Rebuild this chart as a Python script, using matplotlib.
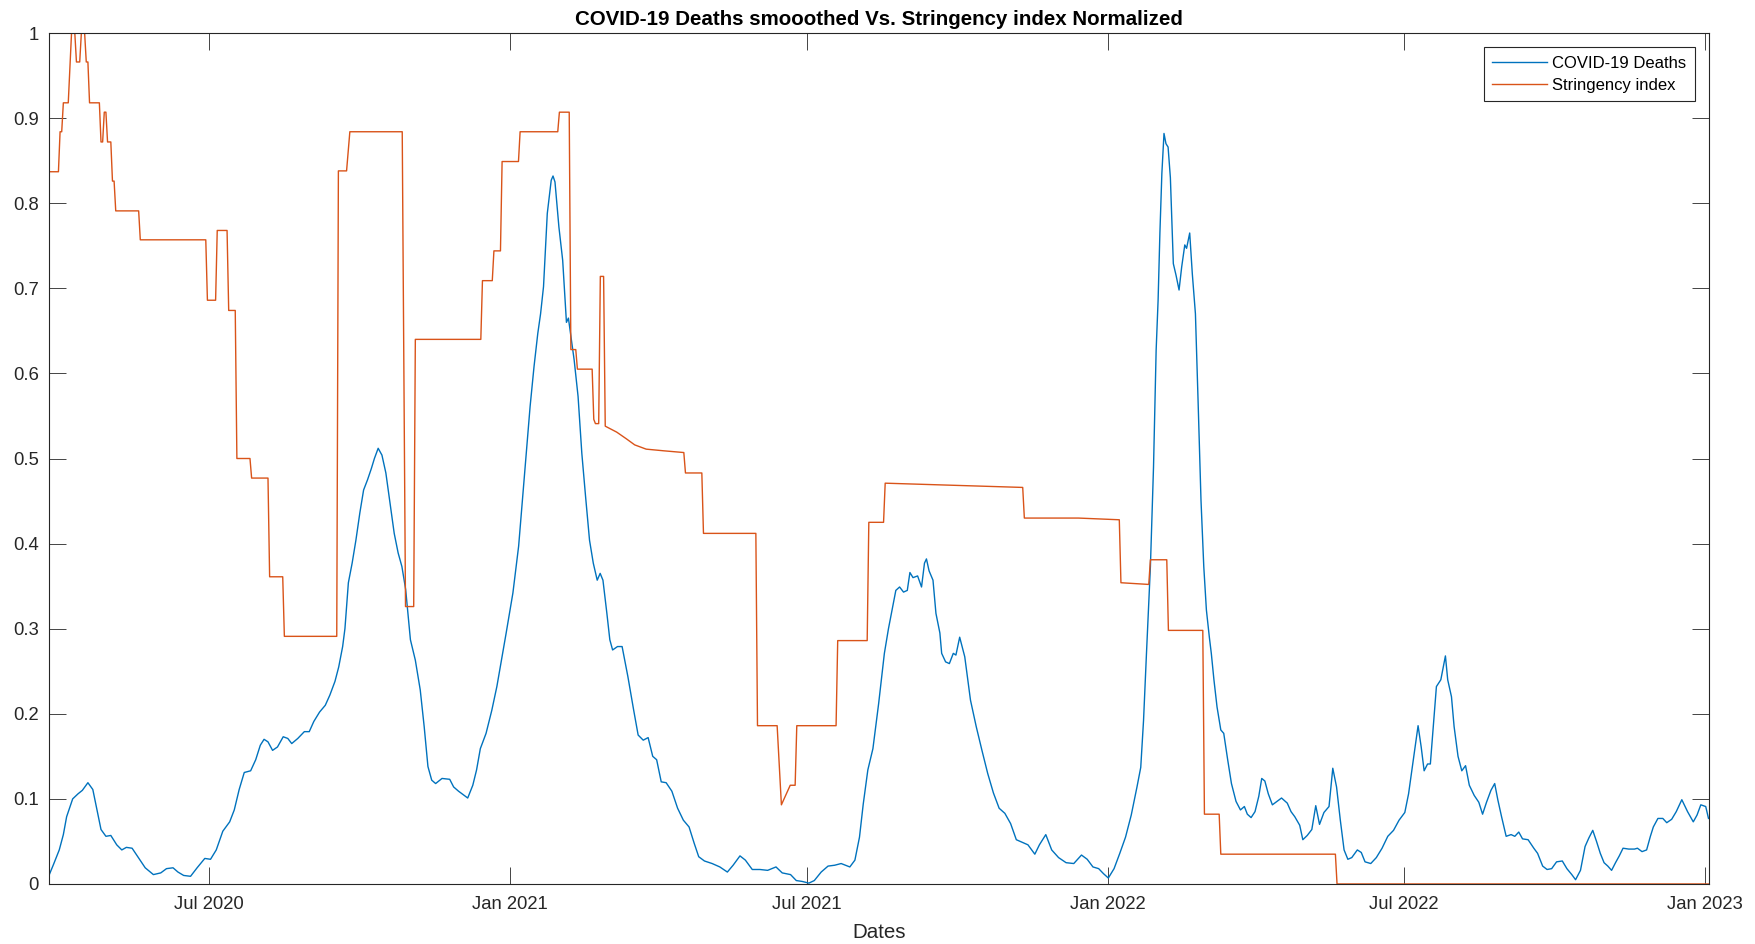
import datetime as dt
import numpy as np
import matplotlib
matplotlib.use("Agg")
import matplotlib.pyplot as plt
import matplotlib.dates as mdates

# ---------------- data ----------------
start_date = dt.date(2020, 3, 25)
last_day = 1014

title = "COVID-19 Deaths smooothed Vs. Stringency index Normalized"
xlabel = "Dates"
series_names = ["COVID-19 Deaths", "Stringency index"]

# COVID-19 deaths (smoothed, normalized): day offsets from start_date and values
deaths_day = [0, 3, 6.5, 9, 11, 14.7, 18, 20.6, 24, 27, 30, 32, 35, 38, 41.6, 44.7, 47.5, 51, 54.5, 59,
              64, 68.5, 72, 76, 79, 82.5, 86.7, 90.7, 95.4, 98.9, 102.4, 106.4, 110.6, 113.4, 116.4, 119.5,
              123.4, 126.5, 129.3, 131.6, 134, 136.8, 139.8, 143.3, 146.1, 148.5, 152.2, 156.2, 159.2, 162,
              165.5, 169, 171.8, 174.9, 177.2, 179.6, 181, 183.1, 185.4, 187.7, 190.1, 192.4, 194.8, 197.1,
              199, 201.3, 203.6, 206, 208.8, 211.1, 213.5, 215.8, 218.1, 221, 224, 227, 229.4, 231.7, 234,
              236.4, 240.3, 245, 247.4, 250.4, 253.2, 256, 259.1, 261.4, 263.7, 267.2, 270.7, 273.8, 276.6,
              279.4, 283.6, 287.1, 290.6, 294.1, 296.5, 298.8, 300.5, 302.3, 304.6, 307, 308.1, 309.3, 311.7,
              314, 316.3, 317.5, 319.1, 321, 323.4, 325.7, 328, 330.4, 332.7, 335.1, 336.9, 338.6, 341,
              342.8, 344.5, 347.5, 350.3, 353.8, 357.3, 360.1, 363.2, 366.2, 369, 371.4, 374.2, 377.2, 380.7,
              384.2, 387.7, 391.2, 394.3, 397.1, 400.6, 405.3, 410, 414.6, 418.1, 422.3, 425.6, 429.8, 434.5,
              439.2, 444.3, 448.1, 453.2, 456.7, 460.2, 464.4, 467.7, 471.9, 476.1, 480.1, 484.1, 489.4,
              492.5, 495.3, 497.6, 500.4, 503.5, 507, 510.5, 513, 515.2, 517.5, 519.8, 522.2, 524.5, 526.1,
              528, 530.8, 533.2, 535, 536.2, 537.8, 540.2, 542, 544.4, 545.5, 547.9, 550.2, 552.6, 554.2,
              556.5, 559.6, 563.1, 566.6, 570.1, 573.6, 577.1, 580.6, 584.1, 587.6, 591.1, 594.6, 598.2,
              602.4, 605.2, 609.1, 612.7, 616.9, 621.5, 626.2, 630.9, 634.4, 637.9, 641.4, 644.4, 647.3,
              650.8, 654.3, 657.8, 661.3, 664.8, 667.1, 668.8, 670.6, 673, 674.9, 676.5, 677.7, 678.8, 680,
              681.3, 682.5, 683.8, 685.2, 687, 688.7, 690.5, 692.1, 694, 695.1, 697, 698.6, 700.5, 702.1,
              703.9, 705.6, 707.2, 709, 710.2, 711.8, 713.7, 716, 717.8, 720.2, 722.5, 725.3, 728, 730.4,
              732.2, 734.5, 736.9, 739.2, 741, 742.9, 745, 747.5, 749.6, 753.1, 756.6, 758.9, 761.2, 764.2,
              766.1, 768.8, 771.6, 774, 776.3, 779, 782.1, 784.4, 786.7, 789, 791.3, 793.6, 796, 799.4,
              801.8, 804.1, 807.6, 811, 814.5, 818, 821.5, 824.9, 828.4, 830.7, 833, 834.7, 836.5, 838.4,
              840.2, 842.3, 844, 845.8, 847.7, 850.4, 853.2, 854.6, 856.9, 858.5, 860.9, 863.2, 865.5,
              867.8, 870.8, 873.6, 875.9, 878.3, 881, 883.3, 885.2, 887.5, 890.3, 893.3, 895.6, 898, 900.3,
              903.7, 907.2, 909.5, 912.6, 915.3, 918.1, 921.1, 924.6, 927.4, 930.4, 932.7, 935.7, 938.5,
              940.8, 943.2, 945.5, 947.8, 950.1, 952.4, 954.7, 957.1, 959.4, 961.7, 965.2, 968.7, 970.5,
              973.3, 976.1, 978.4, 980.2, 983, 986, 988.4, 991.4, 994.2, 997.6, 1001.1, 1004.6, 1006.9,
              1009.2, 1012.2, 1013.9]
deaths_val = [0.009, 0.023, 0.040, 0.058, 0.079, 0.100, 0.106, 0.110, 0.119, 0.111, 0.083, 0.064, 0.056, 0.057,
              0.046, 0.040, 0.043, 0.042, 0.032, 0.019, 0.011, 0.013, 0.018, 0.019, 0.014, 0.010, 0.009, 0.019,
              0.030, 0.029, 0.040, 0.062, 0.073, 0.087, 0.111, 0.131, 0.133, 0.146, 0.163, 0.170, 0.167, 0.157,
              0.161, 0.173, 0.171, 0.165, 0.171, 0.179, 0.179, 0.191, 0.202, 0.210, 0.222, 0.238, 0.255, 0.279,
              0.300, 0.354, 0.377, 0.404, 0.436, 0.463, 0.475, 0.488, 0.500, 0.512, 0.504, 0.483, 0.444, 0.412,
              0.389, 0.373, 0.346, 0.287, 0.263, 0.228, 0.185, 0.138, 0.122, 0.118, 0.124, 0.123, 0.114, 0.109,
              0.105, 0.101, 0.116, 0.134, 0.159, 0.177, 0.204, 0.232, 0.263, 0.294, 0.342, 0.397, 0.479, 0.561,
              0.608, 0.647, 0.670, 0.702, 0.788, 0.827, 0.832, 0.825, 0.772, 0.733, 0.660, 0.665, 0.643, 0.616,
              0.573, 0.506, 0.455, 0.404, 0.377, 0.357, 0.365, 0.357, 0.318, 0.287, 0.275, 0.279, 0.279, 0.244,
              0.205, 0.175, 0.169, 0.172, 0.150, 0.146, 0.120, 0.119, 0.109, 0.089, 0.075, 0.067, 0.048, 0.032,
              0.027, 0.024, 0.020, 0.014, 0.022, 0.033, 0.028, 0.017, 0.017, 0.016, 0.020, 0.013, 0.011, 0.004,
              0.003, 0.001, 0.004, 0.014, 0.021, 0.022, 0.024, 0.020, 0.028, 0.055, 0.094, 0.134, 0.159, 0.212,
              0.271, 0.300, 0.322, 0.345, 0.349, 0.343, 0.345, 0.366, 0.360, 0.362, 0.349, 0.377, 0.382, 0.368,
              0.357, 0.318, 0.295, 0.271, 0.261, 0.259, 0.271, 0.269, 0.290, 0.267, 0.216, 0.185, 0.157, 0.130,
              0.107, 0.089, 0.083, 0.071, 0.052, 0.049, 0.046, 0.035, 0.046, 0.058, 0.040, 0.031, 0.025, 0.024,
              0.034, 0.029, 0.020, 0.018, 0.012, 0.007, 0.018, 0.036, 0.055, 0.081, 0.114, 0.137, 0.192, 0.271,
              0.373, 0.490, 0.627, 0.686, 0.765, 0.835, 0.882, 0.870, 0.866, 0.830, 0.729, 0.715, 0.698, 0.725,
              0.751, 0.747, 0.765, 0.717, 0.670, 0.569, 0.451, 0.373, 0.322, 0.290, 0.271, 0.240, 0.208, 0.181,
              0.177, 0.146, 0.118, 0.097, 0.087, 0.091, 0.082, 0.078, 0.085, 0.103, 0.124, 0.121, 0.106, 0.093,
              0.096, 0.101, 0.095, 0.085, 0.079, 0.069, 0.052, 0.057, 0.064, 0.092, 0.070, 0.084, 0.091, 0.136,
              0.114, 0.075, 0.040, 0.029, 0.031, 0.040, 0.037, 0.026, 0.024, 0.031, 0.042, 0.056, 0.063, 0.075,
              0.084, 0.106, 0.138, 0.161, 0.186, 0.161, 0.133, 0.141, 0.141, 0.185, 0.232, 0.240, 0.268, 0.240,
              0.220, 0.185, 0.150, 0.133, 0.139, 0.116, 0.104, 0.096, 0.082, 0.096, 0.110, 0.118, 0.099, 0.079,
              0.056, 0.058, 0.056, 0.061, 0.053, 0.052, 0.042, 0.036, 0.021, 0.017, 0.018, 0.026, 0.027, 0.018,
              0.011, 0.005, 0.016, 0.044, 0.054, 0.063, 0.050, 0.036, 0.025, 0.021, 0.016, 0.025, 0.033, 0.042,
              0.041, 0.041, 0.042, 0.038, 0.040, 0.056, 0.067, 0.077, 0.077, 0.072, 0.076, 0.085, 0.099, 0.085,
              0.073, 0.081, 0.093, 0.091, 0.077]

# Stringency index (normalized): day offsets from start_date and values
string_day = [0, 6, 7, 8, 9, 12, 14, 16, 17, 19, 20, 22, 23, 24, 25, 31, 32, 33, 34, 35, 36, 38, 39, 40, 41,
              55, 56, 96, 97, 102, 103, 109, 110, 114, 115, 123, 124, 134, 135, 143, 144, 176, 177, 182, 184,
              216, 218, 223, 224, 264, 265, 271, 272, 276, 277, 287, 288, 311, 312, 318, 319, 322, 323, 332,
              333, 334, 336, 337, 339, 340, 347, 353, 358, 365, 376, 388, 389, 399, 400, 432, 433, 445, 447.6,
              453, 456, 457, 481, 482, 500, 501, 510, 511, 595, 596, 629, 654, 655, 672, 673, 683, 684, 705,
              706, 715, 716, 786, 787, 1014]
string_val = [0.837, 0.837, 0.884, 0.884, 0.918, 0.918, 1.0, 1.0, 0.966, 0.966, 1.0, 1.0, 0.966, 0.966, 0.918,
              0.918, 0.872, 0.872, 0.907, 0.907, 0.872, 0.872, 0.826, 0.826, 0.791, 0.791, 0.757, 0.757, 0.686,
              0.686, 0.768, 0.768, 0.674, 0.674, 0.500, 0.500, 0.477, 0.477, 0.361, 0.361, 0.291, 0.291, 0.838,
              0.838, 0.884, 0.884, 0.326, 0.326, 0.640, 0.640, 0.709, 0.709, 0.744, 0.744, 0.849, 0.849, 0.884,
              0.884, 0.907, 0.907, 0.628, 0.628, 0.605, 0.605, 0.546, 0.541, 0.541, 0.714, 0.714, 0.538, 0.531,
              0.523, 0.516, 0.511, 0.509, 0.507, 0.483, 0.483, 0.412, 0.412, 0.186, 0.186, 0.093, 0.116, 0.116,
              0.186, 0.186, 0.286, 0.286, 0.425, 0.425, 0.471, 0.466, 0.430, 0.430, 0.428, 0.354, 0.352, 0.381,
              0.381, 0.298, 0.298, 0.082, 0.082, 0.035, 0.035, 0.0, 0.0]

y_ticks = [0, 0.1, 0.2, 0.3, 0.4, 0.5, 0.6, 0.7, 0.8, 0.9, 1]
y_tick_labels = ["0", "0.1", "0.2", "0.3", "0.4", "0.5", "0.6", "0.7", "0.8", "0.9", "1"]
x_tick_dates = ["2020-07-01", "2021-01-01", "2021-07-01", "2022-01-01", "2022-07-01", "2023-01-01"]
x_tick_labels = ["Jul 2020", "Jan 2021", "Jul 2021", "Jan 2022", "Jul 2022", "Jan 2023"]

# ---------------- plotting ----------------
plt.rcParams['font.family'] = ['Liberation Sans', 'DejaVu Sans']

def to_dates(days):
    base = dt.datetime.combine(start_date, dt.time())
    return [base + dt.timedelta(days=float(d)) for d in days]

fig = plt.figure(figsize=(17.55, 9.44), dpi=100)
ax = fig.add_axes([0.0277, 0.0636, 0.9459, 0.9014])

blue = '#0072BD'
orange = '#D95319'
axc = '#262626'

ax.plot(to_dates(deaths_day), deaths_val, color=blue, lw=1.0, label=series_names[0])
ax.plot(to_dates(string_day), string_val, color=orange, lw=1.0, label=series_names[1])

base = dt.datetime.combine(start_date, dt.time())
ax.set_xlim(base, base + dt.timedelta(days=last_day))
ax.set_ylim(0, 1)

xt = [mdates.date2num(dt.datetime.strptime(s, "%Y-%m-%d")) for s in x_tick_dates]
ax.set_xticks(xt)
ax.set_xticklabels(x_tick_labels)
ax.set_yticks(y_ticks)
ax.set_yticklabels(y_tick_labels)

ax.tick_params(axis='both', direction='in', length=12, width=0.6, colors=axc,
               labelsize=13.3, top=True, right=True)
ax.tick_params(axis='x', pad=9)
ax.tick_params(axis='y', pad=7)
for s in ax.spines.values():
    s.set_color(axc)
    s.set_linewidth(0.8)

ax.set_title(title, fontsize=14.8, fontweight='bold', pad=6, color='black')
ax.set_xlabel(xlabel, fontsize=14.8, color=axc, labelpad=7)

leg = ax.legend(loc='upper right', fontsize=12, frameon=True, fancybox=False, shadow=False,
                borderaxespad=0.85, handlelength=3.3, handletextpad=0.3, labelspacing=0.45,
                borderpad=0.5)
leg.get_frame().set_edgecolor(axc)
leg.get_frame().set_linewidth(0.8)
leg.get_frame().set_alpha(1)

fig.savefig("out.png", dpi=100)
